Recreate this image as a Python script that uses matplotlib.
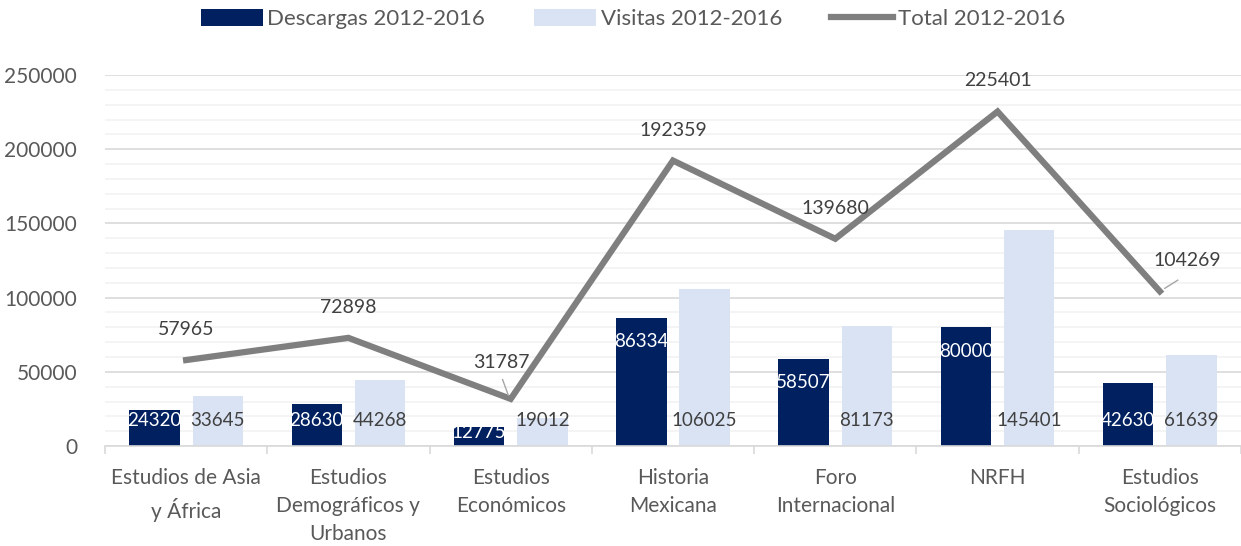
import matplotlib.pyplot as plt
import numpy as np

# datos de revistas 2012-2016
categorias = ["Estudios de Asia\ny África", "Estudios\nDemográficos y\nUrbanos",
              "Estudios\nEconómicos", "Historia\nMexicana", "Foro\nInternacional",
              "NRFH", "Estudios\nSociológicos"]
descargas = [24320, 28630, 12775, 86334, 58507, 80000, 42630]
visitas = [33645, 44268, 19012, 106025, 81173, 145401, 61639]
total = [57965, 72898, 31787, 192359, 139680, 225401, 104269]

plt.rcParams['font.family'] = ['Lato', 'DejaVu Sans']
gris = '#595959'

fig = plt.figure(figsize=(12.41, 5.46), dpi=100)
ax = fig.add_axes([0.0846, 0.183, 0.9154, 0.6796])

x = np.arange(len(categorias))
w = 0.31
b1 = ax.bar(x - 0.195, descargas, w, color='#002060', label='Descargas 2012-2016', zorder=2)
b2 = ax.bar(x + 0.195, visitas, w, color='#dae3f3', label='Visitas 2012-2016', zorder=2)
l1, = ax.plot(x, total, color='#7f7f7f', lw=4.5, label='Total 2012-2016', zorder=3,
              solid_joinstyle='miter')

# etiquetas de barras
for i, v in enumerate(descargas):
    y = v - 16000
    if y < 30000:
        y = min(17500, 0.73 * v)
    ax.text(i - 0.195, y, str(v), color='white', fontsize=13.5, ha='center', va='center', zorder=4)
for i, v in enumerate(visitas):
    ax.text(i + 0.195, 17500, str(v), color='#404040', fontsize=13.5, ha='center', va='center', zorder=4)

# etiquetas del total
for i, v in enumerate(total):
    dx, dy = 0, 22
    if i == 2:
        dx, dy = -7, 26
    if i == 6:
        dx, dy = 20, 22
    ax.annotate(str(v), (i, v), xytext=(dx, dy), textcoords='offset points',
                ha='center', va='center', fontsize=14, color='#404040', zorder=5)
ax.plot([1.95, 1.985], [total[2] + 13000, total[2] + 2500], color='#a6a6a6', lw=1, zorder=4)
ax.plot([6.11, 6.03], [total[6] + 7500, total[6] + 2000], color='#a6a6a6', lw=1, zorder=4)

ax.set_xlim(-0.5, 6.5)
ax.set_ylim(0, 250000)
ax.set_yticks(np.arange(0, 250001, 50000))
ax.set_yticks(np.arange(0, 250001, 10000), minor=True)
ax.grid(axis='y', which='major', color='#d9d9d9', lw=1.2, zorder=0)
ax.grid(axis='y', which='minor', color='#f2f2f2', lw=1.2, zorder=0)
ax.set_axisbelow(True)
ax.tick_params(axis='y', which='both', length=0, labelsize=15, labelcolor=gris, pad=20)

ax.set_xticks(x)
ax.set_xticklabels(categorias, fontsize=15, color=gris, linespacing=1.5)
ax.set_xticks(np.arange(-0.5, 6.6, 1), minor=True)
ax.tick_params(axis='x', which='major', length=0, pad=16)
ax.tick_params(axis='x', which='minor', length=6, color='#d9d9d9', width=1.2)

for s in ['top', 'right', 'left']:
    ax.spines[s].set_visible(False)
ax.spines['bottom'].set_color('#d9d9d9')
ax.spines['bottom'].set_linewidth(1.2)

leg = fig.legend([b1, b2, l1], ['Descargas 2012-2016', 'Visitas 2012-2016', 'Total 2012-2016'],
                 loc='upper center', bbox_to_anchor=(0.51, 1.02), ncol=3, frameon=False,
                 fontsize=16, handlelength=2.8, handleheight=0.8, columnspacing=2.2,
                 handletextpad=0.2)
for t in leg.get_texts():
    t.set_color(gris)

plt.savefig('out.png', dpi=100)
plt.close()
